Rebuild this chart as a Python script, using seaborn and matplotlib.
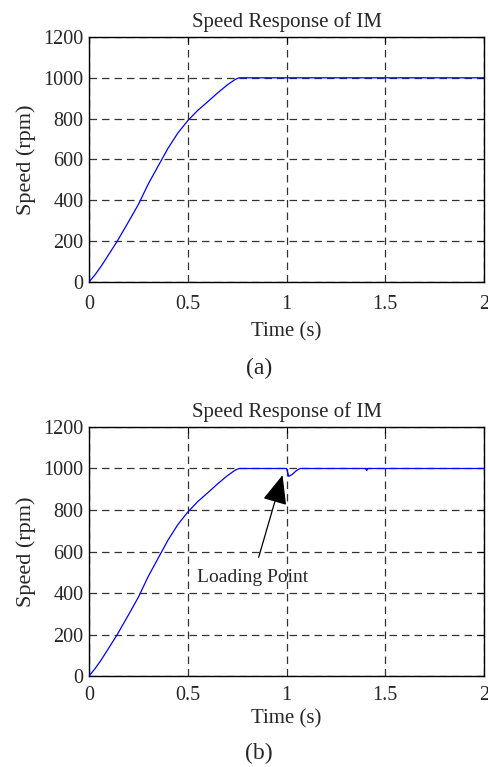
import matplotlib
matplotlib.use("Agg")
import matplotlib.pyplot as plt
import seaborn as sns
import pandas as pd

# ---- data ----
time_a = [0, 0.03, 0.06, 0.10, 0.143, 0.20, 0.25, 0.30, 0.357, 0.40, 0.45, 0.50,
          0.55, 0.60, 0.65, 0.70, 0.74, 0.76, 2.0]
speed_a = [0, 35, 75, 135, 200, 295, 380, 480, 580, 655, 730, 790,
           840, 882, 925, 965, 992, 1000, 1000]

time_b = [0, 0.03, 0.06, 0.10, 0.143, 0.20, 0.25, 0.30, 0.357, 0.40, 0.45, 0.50,
          0.55, 0.60, 0.65, 0.70, 0.74, 0.76,
          1.0, 1.012, 1.03, 1.05, 1.07, 1.40, 1.406, 1.412, 2.0]
speed_b = [0, 35, 75, 135, 200, 295, 380, 480, 580, 655, 730, 790,
           840, 882, 925, 965, 992, 1000,
           1000, 962, 972, 990, 1000, 1000, 990, 1000, 1000]

x_ticks = [0, 0.5, 1, 1.5, 2]
x_tick_labels = ["0", "0.5", "1", "1.5", "2"]
y_ticks = [0, 200, 400, 600, 800, 1000, 1200]

title = "Speed Response of IM"
xlabel = "Time (s)"
ylabel = "Speed (rpm)"
annotation_text = "Loading Point"

sns.set_style("white")
plt.rcParams["font.family"] = ["Liberation Serif", "DejaVu Serif"]

fig = plt.figure(figsize=(4.88, 7.67), dpi=100)
ax_a = fig.add_axes([0.1824, 0.6323, 0.8094, 0.3195])
ax_b = fig.add_axes([0.1824, 0.1186, 0.8094, 0.3247])

df_a = pd.DataFrame({"t": time_a, "v": speed_a})
df_b = pd.DataFrame({"t": time_b, "v": speed_b})

for ax, df, xpad in [(ax_a, df_a, 9), (ax_b, df_b, 7.5)]:
    sns.lineplot(data=df, x="t", y="v", ax=ax, color="#0000ff", linewidth=0.9, zorder=3)
    ax.set_xlim(0, 2)
    ax.set_ylim(0, 1200)
    ax.set_xticks(x_ticks)
    ax.set_xticklabels(x_tick_labels)
    ax.set_yticks(y_ticks)
    ax.grid(True, color="#333333", linestyle=(0, (6, 4)), linewidth=0.9)
    ax.tick_params(direction="in", length=4, width=0.8, labelsize=14.5, color="black",
                   top=True, right=True)
    ax.tick_params(axis="x", pad=xpad)
    ax.tick_params(axis="y", pad=4)
    for s in ax.spines.values():
        s.set_color("black")
        s.set_linewidth(1.0)
        s.set_visible(True)
    ax.set_title(title, fontsize=15, pad=7)
    ax.set_ylabel(ylabel, fontsize=16, labelpad=5)

ax_a.set_xlabel(xlabel, fontsize=15, labelpad=6)
ax_b.set_xlabel(xlabel, fontsize=15, labelpad=3)

ax_b.annotate(annotation_text, xy=(0.98, 968), xytext=(0.83, 477),
              ha="center", va="center", fontsize=14,
              arrowprops=dict(arrowstyle="-|>,head_length=1.3,head_width=0.55",
                              color="black", lw=0.9, shrinkA=6, shrinkB=0))

fig.text(0.53, 1 - 368 / 767, "(a)", ha="center", va="center", fontsize=17)
fig.text(0.53, 1 - 753 / 767, "(b)", ha="center", va="center", fontsize=17)

fig.savefig("out.png", dpi=100)
